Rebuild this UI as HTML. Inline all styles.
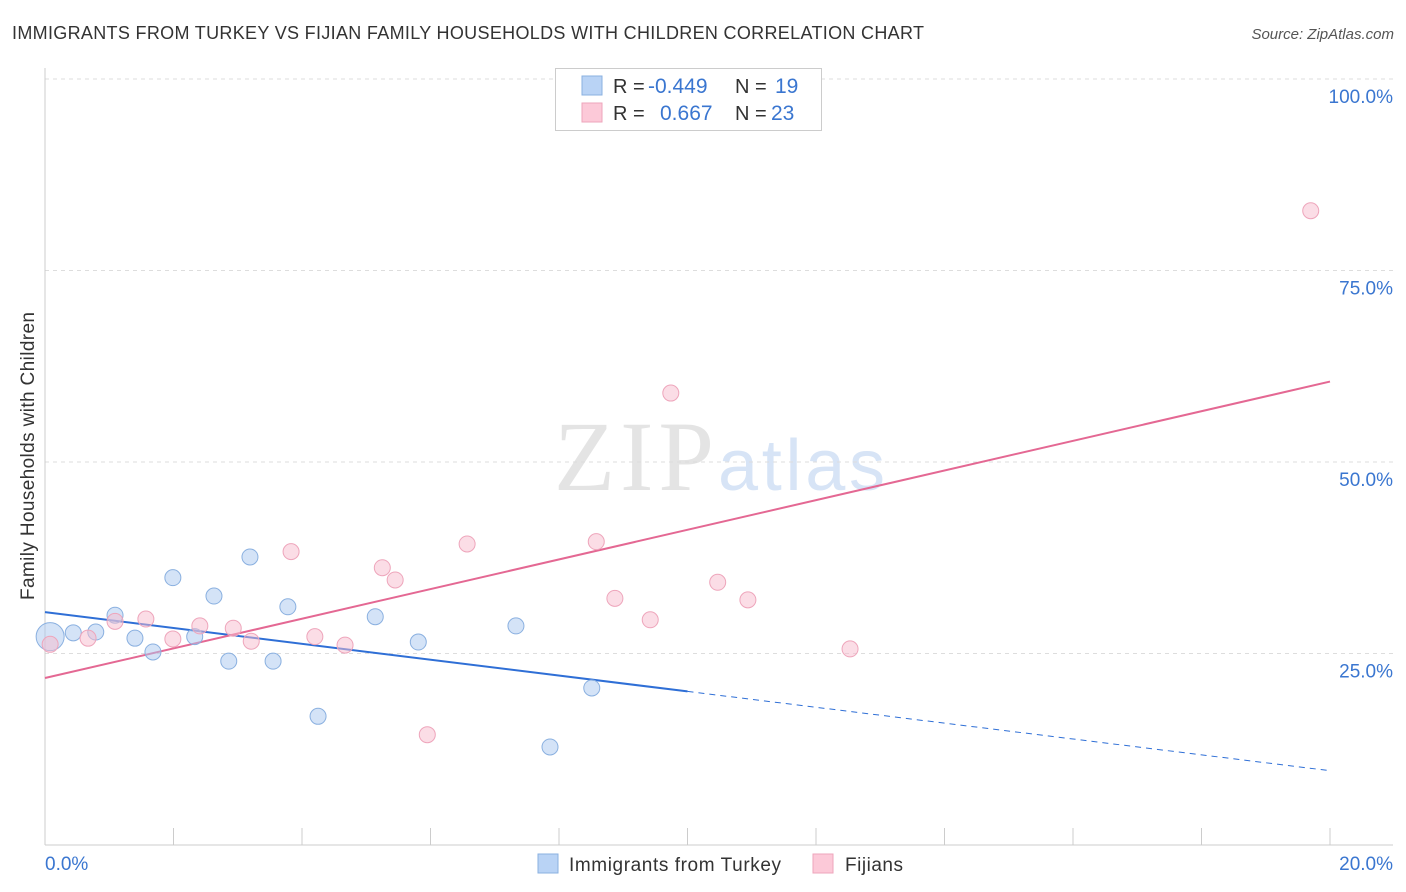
<!DOCTYPE html>
<html><head><meta charset="utf-8"><style>
body{margin:0;background:#fff;font-family:"Liberation Sans",sans-serif;}
svg{display:block}
</style></head><body>
<svg id="c" width="1406" height="892">
<text x="12" y="39" font-size="18" fill="#333" textLength="912">IMMIGRANTS FROM TURKEY VS FIJIAN FAMILY HOUSEHOLDS WITH CHILDREN CORRELATION CHART</text>
<text x="1394" y="39" font-size="15" fill="#555" font-style="italic" text-anchor="end">Source: ZipAtlas.com</text>
<text x="34" y="456" font-size="19" fill="#333" text-anchor="middle" textLength="288" transform="rotate(-90 34 456)">Family Households with Children</text>
<text x="714" y="490" font-size="100" fill="#e4e4e4" text-anchor="end" textLength="160" font-family="Liberation Serif,serif">ZIP</text>
<text x="718" y="490" font-size="72" fill="#d7e4f6" textLength="167">atlas</text>
<g id="grid"></g><g id="lines"></g><g id="pts"></g>
<g>
<rect x="555.5" y="68.5" width="266" height="62" fill="#fff" stroke="#ccc"/>
<rect x="582" y="76" width="20" height="19" fill="#b9d3f5" stroke="#8ab0e0"/>
<rect x="582" y="103" width="20" height="19" fill="#fcc9d8" stroke="#eea5bb"/>
<text x="613" y="93" font-size="20" fill="#333">R = <tspan x="648" fill="#3a76d0" font-size="21">-0.449</tspan><tspan x="735">N = </tspan><tspan x="775" fill="#3a76d0" font-size="21">19</tspan></text>
<text x="613" y="120" font-size="20" fill="#333">R = <tspan x="660" fill="#3a76d0" font-size="21">0.667</tspan><tspan x="735">N = </tspan><tspan x="771" fill="#3a76d0" font-size="21">23</tspan></text>
</g>
<g>
<rect x="538" y="854" width="20" height="19" fill="#b9d3f5" stroke="#8ab0e0"/>
<text x="569" y="871" font-size="19" fill="#333" textLength="212">Immigrants from Turkey</text>
<rect x="813" y="854" width="20" height="19" fill="#fcc9d8" stroke="#eea5bb"/>
<text x="845" y="871" font-size="19" fill="#333" textLength="58">Fijians</text>
</g>
</svg>
<script>
const blueX=[0.08,0.44,0.79,1.09,1.40,1.68,1.99,2.33,2.63,2.86,3.19,3.55,3.78,4.25,5.14,5.81,7.33,7.86,8.51];
const blueY=[27.2,27.7,27.8,30.0,27.0,25.2,34.9,27.2,32.5,24.0,37.6,24.0,31.1,16.8,29.8,26.5,28.6,12.8,20.5];
const pinkX=[0.08,0.67,1.09,1.57,1.99,2.41,2.93,3.21,3.83,4.20,4.67,5.25,5.45,5.95,6.57,8.58,8.87,9.42,9.74,10.47,10.94,12.53,19.70];
const pinkY=[26.2,27.0,29.2,29.5,26.9,28.6,28.3,26.6,38.3,27.2,26.1,36.2,34.6,14.4,39.3,39.6,32.2,29.4,59.0,34.3,32.0,25.6,82.8];
const blueLine=[30.4,9.7];
const pinkLine=[21.8,60.5];
const yTicks=[25,50,75,100];
const yTickLabels=["25.0%","50.0%","75.0%","100.0%"];
const xTicks=[0,2,4,6,8,10,12,14,16,18,20];
const NS="http://www.w3.org/2000/svg";
const X=v=>45+v/20*1285, Y=v=>845-v*7.66;
function mk(p,t,a){const e=document.createElementNS(NS,t);for(const k in a)e.setAttribute(k,a[k]);p.appendChild(e);return e;}
const grid=document.getElementById('grid'),lines=document.getElementById('lines'),pts=document.getElementById('pts');
yTicks.forEach((t,i)=>{
 const l=mk(grid,'line',{x1:45,x2:1393,y1:Y(t),y2:Y(t),stroke:'#ddd','stroke-dasharray':'4,4'});
 
 
 const tx=mk(grid,'text',{x:1393,y:Y(t)+24,'font-size':19,fill:'#3a76d0','text-anchor':'end'});
 tx.textContent=yTickLabels[i];
 
 
});
mk(grid,'line',{x1:45,x2:45,y1:68,y2:845,stroke:'#ccc'});
mk(grid,'line',{x1:45,x2:1393,y1:845,y2:845,stroke:'#ccc'});
xTicks.forEach(t=>{const l=mk(grid,'line',{x1:X(t),x2:X(t),y1:828,y2:845,stroke:'#ccc'});
 
 });
let a=mk(grid,'text',{x:45,y:870,'font-size':19,fill:'#3a76d0'});a.textContent='0.0%';


a=mk(grid,'text',{x:1393,y:870,'font-size':19,fill:'#3a76d0','text-anchor':'end'});a.textContent='20.0%';


const bm=blueLine[0]+(blueLine[1]-blueLine[0])*0.5;
let l=mk(lines,'line',{x1:X(0),y1:Y(blueLine[0]),x2:X(10),y2:Y(bm),stroke:'#2f6fd6','stroke-width':2});


l=mk(lines,'line',{x1:X(10),y1:Y(bm),x2:X(20),y2:Y(blueLine[1]),stroke:'#2f6fd6','stroke-width':1,'stroke-dasharray':'6,5'});


l=mk(lines,'line',{x1:X(0),y1:Y(pinkLine[0]),x2:X(20),y2:Y(pinkLine[1]),stroke:'#e46893','stroke-width':2});


blueX.forEach((v,i)=>{const c=mk(pts,'circle',{cx:X(v),cy:Y(blueY[i]),r:i==0?14:8,fill:'rgba(169,200,240,0.5)',stroke:'#8ab0e0'});
 
 });
pinkX.forEach((v,i)=>{const c=mk(pts,'circle',{cx:X(v),cy:Y(pinkY[i]),r:8,fill:'rgba(248,188,206,0.5)',stroke:'#eea5bb'});
 
 });
</script>
</body></html>
